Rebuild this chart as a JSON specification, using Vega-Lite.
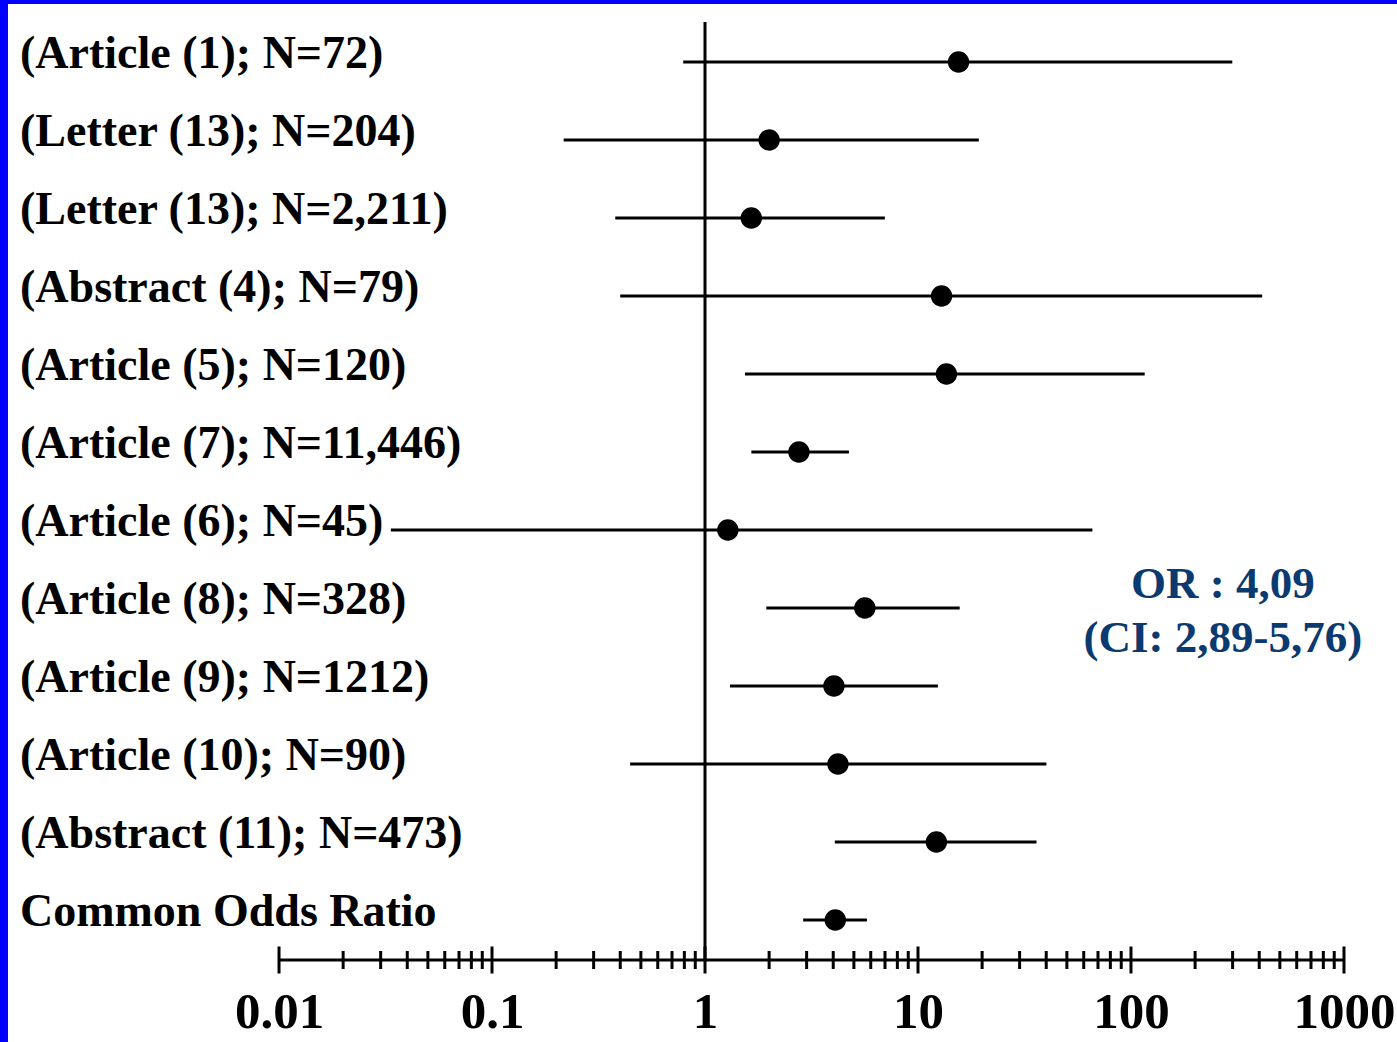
{
  "$schema": "https://vega.github.io/schema/vega-lite/v6.json",
  "width": 1389,
  "height": 1038,
  "autosize": {"type": "none"},
  "padding": {"left": 8, "top": 4, "right": 0, "bottom": 0},
  "background": "#0000ff",
  "config": {"view": {"stroke": null, "fill": "white"}},
  "datasets": {
    "studies": [
      {"row": 1, "label": "(Article (1); N=72)", "or": 15.5, "lo": 0.79, "hi": 299},
      {"row": 2, "label": "(Letter (13); N=204)", "or": 2.0, "lo": 0.217, "hi": 19.3},
      {"row": 3, "label": "(Letter (13); N=2,211)", "or": 1.65, "lo": 0.379, "hi": 6.99},
      {"row": 4, "label": "(Abstract (4); N=79)", "or": 12.9, "lo": 0.40, "hi": 413},
      {"row": 5, "label": "(Article (5); N=120)", "or": 13.6, "lo": 1.54, "hi": 116},
      {"row": 6, "label": "(Article (7); N=11,446)", "or": 2.76, "lo": 1.65, "hi": 4.74},
      {"row": 7, "label": "(Article (6); N=45)", "or": 1.28, "lo": 0.0335, "hi": 65.9},
      {"row": 8, "label": "(Article (8); N=328)", "or": 5.63, "lo": 1.94, "hi": 15.7},
      {"row": 9, "label": "(Article (9); N=1212)", "or": 4.03, "lo": 1.31, "hi": 12.4},
      {"row": 10, "label": "(Article (10); N=90)", "or": 4.21, "lo": 0.445, "hi": 40.1},
      {"row": 11, "label": "(Abstract (11); N=473)", "or": 12.2, "lo": 4.07, "hi": 36.0},
      {"row": 12, "label": "Common Odds Ratio", "or": 4.09, "lo": 2.89, "hi": 5.76}
    ],
    "ticks": [
      {"v": 0.01, "major": true}, {"v": 0.02, "major": false}, {"v": 0.03, "major": false}, {"v": 0.04, "major": false}, {"v": 0.05, "major": false}, {"v": 0.06, "major": false}, {"v": 0.07, "major": false}, {"v": 0.08, "major": false}, {"v": 0.09, "major": false},
      {"v": 0.1, "major": true}, {"v": 0.2, "major": false}, {"v": 0.3, "major": false}, {"v": 0.4, "major": false}, {"v": 0.5, "major": false}, {"v": 0.6, "major": false}, {"v": 0.7, "major": false}, {"v": 0.8, "major": false}, {"v": 0.9, "major": false},
      {"v": 1, "major": true}, {"v": 2, "major": false}, {"v": 3, "major": false}, {"v": 4, "major": false}, {"v": 5, "major": false}, {"v": 6, "major": false}, {"v": 7, "major": false}, {"v": 8, "major": false}, {"v": 9, "major": false},
      {"v": 10, "major": true}, {"v": 20, "major": false}, {"v": 30, "major": false}, {"v": 40, "major": false}, {"v": 50, "major": false}, {"v": 60, "major": false}, {"v": 70, "major": false}, {"v": 80, "major": false}, {"v": 90, "major": false},
      {"v": 100, "major": true}, {"v": 200, "major": false}, {"v": 300, "major": false}, {"v": 400, "major": false}, {"v": 500, "major": false}, {"v": 600, "major": false}, {"v": 700, "major": false}, {"v": 800, "major": false}, {"v": 900, "major": false},
      {"v": 1000, "major": true}
    ]
  },
  "layer": [
    {
      "data": {"name": "studies"},
      "mark": {"type": "rule", "color": "black", "strokeWidth": 3},
      "encoding": {
        "x": {
          "field": "lo", "type": "quantitative",
          "scale": {"type": "log", "domain": [0.000534, 1774], "nice": false, "zero": false},
          "axis": {
            "title": null, "grid": false, "domain": false, "ticks": false, "tickSize": 0,
            "values": [0.01, 0.1, 1, 10, 100, 1000], "format": "~g",
            "labelFont": "Liberation Serif", "labelFontWeight": "bold", "labelFontSize": 51,
            "labelColor": "black", "offset": -82, "labelPadding": 67, "labelBaseline": "alphabetic",
            "labelFlush": false, "labelOverlap": false, "labelBound": false
          }
        },
        "x2": {"field": "hi"},
        "y": {
          "field": "row", "type": "quantitative",
          "scale": {"domain": [0.25641, 13.5641], "reverse": true, "nice": false, "zero": false},
          "axis": null
        }
      }
    },
    {
      "data": {"name": "studies"},
      "mark": {"type": "point", "shape": "circle", "filled": true, "color": "black", "opacity": 1, "size": 460},
      "encoding": {
        "x": {"field": "or", "type": "quantitative"},
        "y": {"field": "row", "type": "quantitative"}
      }
    },
    {
      "data": {"name": "studies"},
      "mark": {"type": "text", "align": "left", "baseline": "alphabetic", "dy": 6, "font": "Liberation Serif", "fontWeight": "bold", "fontSize": 46, "color": "black"},
      "encoding": {
        "x": {"datum": 0.000608, "type": "quantitative"},
        "y": {"field": "row", "type": "quantitative"},
        "text": {"field": "label"}
      }
    },
    {
      "data": {"name": "ticks"},
      "mark": {"type": "tick", "orient": "vertical", "color": "black", "opacity": 1, "thickness": 3},
      "encoding": {
        "x": {"field": "v", "type": "quantitative"},
        "y": {"datum": 12.5128, "type": "quantitative"},
        "size": {"condition": {"test": "datum.major", "value": 27}, "value": 18}
      }
    },
    {
      "data": {"values": [{}]},
      "mark": {"type": "rule", "color": "black", "strokeWidth": 3},
      "encoding": {
        "x": {"datum": 0.01, "type": "quantitative"},
        "x2": {"datum": 1000},
        "y": {"datum": 12.5128, "type": "quantitative"}
      }
    },
    {
      "data": {"values": [{}]},
      "mark": {"type": "rule", "color": "black", "strokeWidth": 3},
      "encoding": {
        "x": {"datum": 1, "type": "quantitative"},
        "y": {"datum": 0.4872, "type": "quantitative"},
        "y2": {"datum": 12.5128}
      }
    },
    {
      "data": {"values": [{}]},
      "mark": {"type": "text", "align": "center", "baseline": "alphabetic", "lineHeight": 54, "font": "Liberation Serif", "fontWeight": "bold", "fontSize": 45, "color": "#0a3a70", "text": ["OR : 4,09", "(CI: 2,89-5,76)"]},
      "encoding": {
        "x": {"datum": 270, "type": "quantitative"},
        "y": {"datum": 7.872, "type": "quantitative"}
      }
    }
  ]
}
